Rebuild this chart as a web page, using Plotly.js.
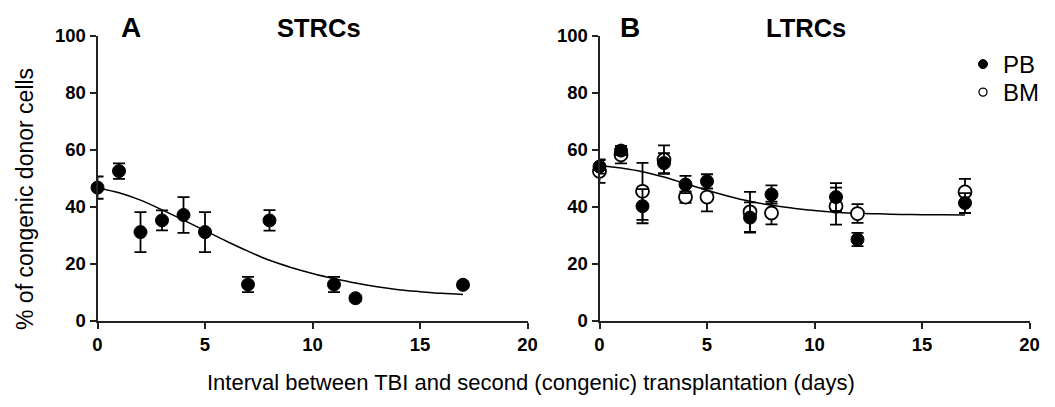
<!DOCTYPE html>
<html>
<head>
<meta charset="utf-8">
<script src="https://cdn.plot.ly/plotly-3.0.1.min.js"></script>
<style>html,body{margin:0;padding:0;background:#fff;}#chart{width:1055px;height:407px;}</style>
</head>
<body>
<div id="chart"></div>
<script>
// ---- Data ----
const daysA = [0, 1, 2, 3, 4, 5, 7, 8, 11, 12, 17];
const strcPB = [46.8, 52.6, 31.2, 35.3, 37.2, 31.2, 12.8, 35.3, 12.8, 8.0, 12.7];
const strcErr = [3.9, 2.7, 7.0, 3.5, 6.3, 7.0, 2.7, 3.6, 2.7, 1.0, 1.0];

const daysB = [0, 1, 2, 3, 4, 5, 7, 8, 11, 12, 17];
const ltrcPB = [54.2, 59.8, 40.3, 55.4, 47.9, 49.0, 36.3, 44.4, 43.5, 28.6, 41.4];
const ltrcPBErr = [2.5, 1.6, 6.0, 3.5, 3.0, 2.5, 5.3, 3.2, 4.9, 2.3, 3.5];
const ltrcBM = [52.5, 58.3, 45.5, 56.6, 43.5, 43.5, 38.3, 37.9, 40.3, 37.7, 45.3];
const ltrcBMErr = [4.0, 3.0, 10.0, 5.0, 2.0, 5.0, 7.0, 4.0, 6.5, 3.3, 4.6];

const fitX = [0, 1, 2, 3, 4, 5, 6, 7, 8, 9, 10, 11, 12, 13, 14, 15, 16, 17];
const fitA = [46.7, 45.0, 42.4, 39.0, 35.4, 31.7, 28.0, 24.5, 21.3, 18.8, 16.7, 14.9, 13.3, 12.0, 11.0, 10.3, 9.7, 9.3];
const fitB = [54.6, 53.7, 52.4, 50.5, 48.2, 45.9, 43.8, 42.0, 40.6, 39.6, 38.8, 38.2, 37.8, 37.6, 37.4, 37.3, 37.3, 37.2];

const xTicks = [0, 5, 10, 15, 20];
const yTicks = [0, 20, 40, 60, 80, 100];
const seriesNames = ['PB', 'BM'];
const panelLetters = ['A', 'B'];
const panelTitles = ['STRCs', 'LTRCs'];
const xTitle = 'Interval between TBI and second (congenic) transplantation (days)';
const yTitle = '% of congenic donor cells';

// ---- Styles ----
const FONT = 'Liberation Sans, Arial, sans-serif';
const W = 1055, H = 407;
const errStyle = (arr) => ({type: 'data', array: arr, visible: true, color: '#000', thickness: 1.8, width: 6});
const filled = {color: '#000', size: 13, line: {color: '#000', width: 1}};
const open = {color: '#fff', size: 13, line: {color: '#000', width: 1.8}};

const traces = [
  {x: fitX, y: fitA, xaxis: 'x', yaxis: 'y', mode: 'lines', line: {color: '#000', width: 1.5, shape: 'spline'}, showlegend: false, hoverinfo: 'skip'},
  {x: daysA, y: strcPB, xaxis: 'x', yaxis: 'y', mode: 'markers', marker: filled, error_y: errStyle(strcErr), showlegend: false, cliponaxis: false},
  {x: fitX, y: fitB, xaxis: 'x2', yaxis: 'y2', mode: 'lines', line: {color: '#000', width: 1.5, shape: 'spline'}, showlegend: false, hoverinfo: 'skip'},
  {x: daysB, y: ltrcBM, xaxis: 'x2', yaxis: 'y2', mode: 'markers', marker: open, error_y: errStyle(ltrcBMErr), showlegend: false, cliponaxis: false},
  {x: daysB, y: ltrcPB, xaxis: 'x2', yaxis: 'y2', mode: 'markers', marker: filled, error_y: errStyle(ltrcPBErr), showlegend: false, cliponaxis: false},
  // legend entries
  {x: [null], y: [null], xaxis: 'x2', yaxis: 'y2', mode: 'markers', name: seriesNames[0], legend: 'legend', marker: {color: '#000', size: 9, line: {color: '#000', width: 1}}, showlegend: true},
  {x: [null], y: [null], xaxis: 'x2', yaxis: 'y2', mode: 'markers', name: seriesNames[1], legend: 'legend2', marker: {color: '#fff', size: 8, line: {color: '#000', width: 1.3}}, showlegend: true}
];

const px = (v) => v / W;
const py = (v) => 1 - v / H;

const axisX = (dom, anchor) => ({
  domain: dom, anchor: anchor, range: [0, 20], tickvals: xTicks, ticktext: xTicks.map(String),
  ticks: 'outside', ticklen: 6, tickwidth: 2, tickcolor: '#222',
  showline: true, linewidth: 2, linecolor: '#222', showgrid: false, zeroline: false,
  tickfont: {family: FONT, size: 18.5, weight: 700, color: '#000'}
});
const axisY = (anchor) => ({
  domain: [py(321), py(36)], anchor: anchor, range: [0, 100], tickvals: yTicks, ticktext: yTicks.map(String),
  ticks: 'outside', ticklen: 6, tickwidth: 2, tickcolor: '#222',
  showline: true, linewidth: 2, linecolor: '#222', showgrid: false, zeroline: false,
  tickfont: {family: FONT, size: 18.5, weight: 700, color: '#000'}
});

const ann = (text, x, y, size, weight, extra) => Object.assign({
  text: text, x: px(x), y: py(y), xref: 'paper', yref: 'paper', showarrow: false,
  xanchor: 'center', yanchor: 'middle', font: {family: FONT, size: size, weight: weight, color: '#000'}
}, extra || {});

const legendBox = (top) => ({x: px(963), y: py(top), xanchor: 'left', yanchor: 'top', bgcolor: 'rgba(0,0,0,0)',
  font: {family: FONT, size: 24, color: '#000'}, itemsizing: 'trace'});

const layout = {
  width: W, height: H,
  margin: {l: 0, r: 0, t: 0, b: 0},
  paper_bgcolor: '#fff', plot_bgcolor: '#fff',
  xaxis: axisX([px(97.5), px(527.5)], 'y'),
  yaxis: axisY('x'),
  xaxis2: axisX([px(599.5), px(1029.5)], 'y2'),
  yaxis2: axisY('x2'),
  showlegend: true,
  legend: legendBox(42),
  legend2: legendBox(70),
  annotations: [
    ann(panelLetters[0], 131, 27, 28, 700),
    ann(panelTitles[0], 319, 28, 25.5, 700),
    ann(panelLetters[1], 630, 27, 28, 700),
    ann(panelTitles[1], 806, 28, 25.5, 700),
    ann(xTitle, 531, 382, 22, 400),
    ann(yTitle, 25, 199, 23, 400, {textangle: -90})
  ]
};

Plotly.newPlot('chart', traces, layout, {staticPlot: true, displayModeBar: false});
</script>
</body>
</html>
